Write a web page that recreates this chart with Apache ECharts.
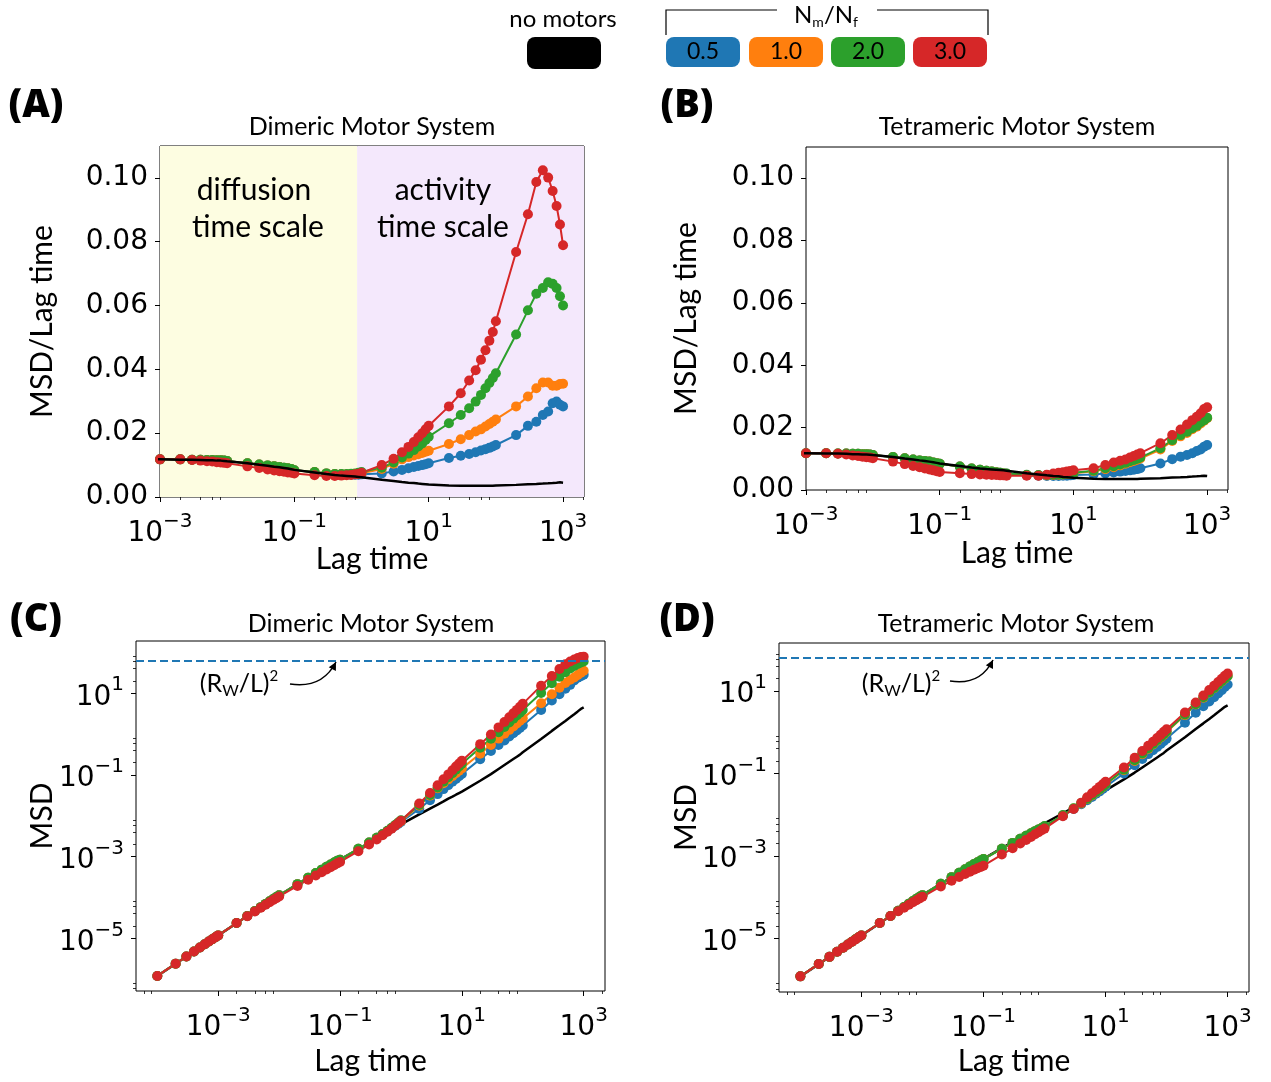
<!DOCTYPE html>
<html><head><meta charset="utf-8">
<script src="https://cdn.jsdelivr.net/npm/echarts@6/dist/echarts.min.js"></script>
<style>html,body{margin:0;padding:0;background:#fff}#chart{width:1271px;height:1082px}</style>
</head><body><div id="chart"></div>
<script>
// ---------------- DATA ----------------
const lagTime = [
  1e-4,2e-4,3e-4,4e-4,5e-4,6e-4,7e-4,8e-4,9e-4,
  1e-3,2e-3,3e-3,4e-3,5e-3,6e-3,7e-3,8e-3,9e-3,
  0.01,0.02,0.03,0.04,0.05,0.06,0.07,0.08,0.09,
  0.1,0.2,0.3,0.4,0.5,0.6,0.7,0.8,0.9,
  1,2,3,4,5,6,7,8,9,
  10,20,30,40,50,60,70,80,90,
  100,200,300,400,500,600,700,800,900,
  1000];

// MSD / Lag time, no motors
const noMotors = [
  0.0119,0.0119,0.0119,0.0119,0.0119,0.0119,0.0119,0.0118,0.0118,
  0.0118,0.0117,0.0117,0.0116,0.0115,0.0115,0.0114,0.0114,0.0113,
  0.0112,0.0106,0.0101,0.0098,0.0095,0.0093,0.0091,0.0089,0.0087,
  0.0085,0.0077,0.0072,0.0069,0.0067,0.0066,0.0065,0.0064,0.0063,
  0.0062,0.0054,0.0050,0.0047,0.0045,0.0044,0.0042,0.0041,0.0040,
  0.0039,0.0036,0.0035,0.0035,0.0035,0.0035,0.0035,0.0035,0.0035,
  0.0036,0.0038,0.0040,0.0041,0.0042,0.0043,0.0044,0.0045,0.0046,
  0.0045];

// Dimeric motor system, MSD / Lag time, Nm/Nf = 0.5, 1.0, 2.0, 3.0
const dimer05 = [
  0.0120,0.0120,0.0119,0.0119,0.0119,0.0119,0.0119,0.0119,0.0118,
  0.0118,0.0118,0.0117,0.0117,0.0116,0.0116,0.0115,0.0115,0.0114,
  0.0113,0.0106,0.0102,0.0099,0.0096,0.0094,0.0092,0.0090,0.0088,
  0.0084,0.0078,0.0074,0.0072,0.0071,0.0070,0.0070,0.0070,0.0070,
  0.0071,0.0074,0.0080,0.0085,0.0090,0.0094,0.0097,0.0100,0.0103,
  0.0106,0.0122,0.0129,0.0135,0.0140,0.0146,0.0150,0.0154,0.0158,
  0.0163,0.0194,0.0223,0.0236,0.0257,0.0268,0.0294,0.0299,0.0289,
  0.0284];
const dimer10 = [
  0.0120,0.0120,0.0119,0.0119,0.0119,0.0119,0.0119,0.0119,0.0118,
  0.0118,0.0118,0.0117,0.0117,0.0116,0.0116,0.0115,0.0115,0.0114,
  0.0113,0.0106,0.0102,0.0099,0.0096,0.0094,0.0092,0.0090,0.0088,
  0.0084,0.0078,0.0074,0.0072,0.0071,0.0071,0.0071,0.0072,0.0073,
  0.0074,0.0088,0.0104,0.0118,0.0125,0.0130,0.0134,0.0138,0.0142,
  0.0145,0.0166,0.0181,0.0194,0.0205,0.0212,0.0221,0.0229,0.0236,
  0.0243,0.0284,0.0315,0.0341,0.0359,0.0359,0.0349,0.0349,0.0354,
  0.0355];
const dimer20 = [
  0.0120,0.0120,0.0119,0.0119,0.0119,0.0119,0.0119,0.0119,0.0118,
  0.0118,0.0118,0.0117,0.0117,0.0116,0.0116,0.0115,0.0115,0.0114,
  0.0113,0.0106,0.0102,0.0099,0.0096,0.0094,0.0092,0.0090,0.0088,
  0.0084,0.0078,0.0074,0.0072,0.0072,0.0072,0.0073,0.0074,0.0076,
  0.0078,0.0092,0.0108,0.0124,0.0136,0.0147,0.0158,0.0168,0.0179,
  0.0189,0.0231,0.0257,0.0278,0.0299,0.0320,0.0341,0.0357,0.0373,
  0.0388,0.0509,0.0585,0.0637,0.0655,0.0673,0.0668,0.0655,0.0629,
  0.0600];
const dimer30 = [
  0.0120,0.0120,0.0119,0.0119,0.0119,0.0119,0.0119,0.0118,0.0118,
  0.0118,0.0118,0.0116,0.0114,0.0112,0.0111,0.0109,0.0108,0.0107,
  0.0106,0.0096,0.0091,0.0086,0.0083,0.0081,0.0079,0.0077,0.0076,
  0.0074,0.0068,0.0066,0.0066,0.0067,0.0068,0.0069,0.0071,0.0073,
  0.0076,0.0100,0.0120,0.0140,0.0157,0.0172,0.0187,0.0200,0.0212,
  0.0223,0.0284,0.0325,0.0365,0.0397,0.0430,0.0460,0.0490,0.0517,
  0.0551,0.0768,0.0886,0.0987,0.1024,0.1001,0.0959,0.0912,0.0854,
  0.0789];

// Tetrameric motor system, MSD / Lag time
const tetra05 = [
  0.0120,0.0120,0.0119,0.0119,0.0119,0.0119,0.0119,0.0119,0.0118,
  0.0118,0.0118,0.0117,0.0117,0.0116,0.0116,0.0115,0.0115,0.0114,
  0.0112,0.0106,0.0102,0.0098,0.0095,0.0093,0.0091,0.0088,0.0086,
  0.0084,0.0075,0.0069,0.0065,0.0062,0.0059,0.0057,0.0055,0.0053,
  0.0052,0.0047,0.0046,0.0045,0.0045,0.0045,0.0046,0.0046,0.0047,
  0.0048,0.0050,0.0053,0.0056,0.0059,0.0061,0.0063,0.0065,0.0067,
  0.0070,0.0085,0.0099,0.0107,0.0112,0.0118,0.0125,0.0130,0.0139,
  0.0144];
const tetra10 = [
  0.0120,0.0120,0.0119,0.0119,0.0119,0.0119,0.0119,0.0119,0.0118,
  0.0118,0.0118,0.0117,0.0117,0.0116,0.0116,0.0115,0.0115,0.0114,
  0.0112,0.0106,0.0102,0.0098,0.0095,0.0093,0.0091,0.0088,0.0086,
  0.0084,0.0075,0.0069,0.0065,0.0062,0.0059,0.0057,0.0055,0.0053,
  0.0052,0.0048,0.0047,0.0047,0.0048,0.0049,0.0050,0.0051,0.0052,
  0.0054,0.0060,0.0067,0.0073,0.0079,0.0084,0.0089,0.0093,0.0097,
  0.0101,0.0130,0.0157,0.0172,0.0183,0.0195,0.0203,0.0213,0.0222,
  0.0230];
const tetra20 = [
  0.0120,0.0120,0.0119,0.0119,0.0119,0.0119,0.0119,0.0119,0.0118,
  0.0118,0.0118,0.0117,0.0117,0.0116,0.0116,0.0115,0.0115,0.0114,
  0.0112,0.0106,0.0102,0.0098,0.0095,0.0093,0.0091,0.0088,0.0086,
  0.0084,0.0075,0.0069,0.0065,0.0062,0.0059,0.0057,0.0055,0.0053,
  0.0053,0.0049,0.0048,0.0048,0.0049,0.0050,0.0051,0.0052,0.0053,
  0.0055,0.0062,0.0070,0.0076,0.0082,0.0087,0.0092,0.0096,0.0100,
  0.0104,0.0134,0.0160,0.0176,0.0187,0.0198,0.0206,0.0217,0.0224,
  0.0232];
const tetra30 = [
  0.0120,0.0120,0.0119,0.0119,0.0119,0.0119,0.0119,0.0118,0.0118,
  0.0118,0.0118,0.0116,0.0114,0.0111,0.0109,0.0107,0.0105,0.0104,
  0.0102,0.0091,0.0083,0.0077,0.0073,0.0069,0.0066,0.0063,0.0060,
  0.0058,0.0054,0.0051,0.0050,0.0049,0.0048,0.0048,0.0047,0.0047,
  0.0046,0.0046,0.0046,0.0049,0.0053,0.0055,0.0057,0.0059,0.0061,
  0.0063,0.0070,0.0080,0.0088,0.0094,0.0098,0.0104,0.0109,0.0114,
  0.0118,0.0150,0.0176,0.0194,0.0210,0.0224,0.0235,0.0246,0.0260,
  0.0265];

const ratioLabels = ['0.5', '1.0', '2.0', '3.0'];
const seriesColors = ['#1f77b4', '#ff7f0e', '#2ca02c', '#d62728'];
const rwOverLSquared = 64;          // (R_W/L)^2 reference level
const timeScaleBoundary = 0.86;     // diffusion / activity time-scale boundary (lag time)
const majorLogTicks = [1e-5, 1e-3, 1e-1, 10, 1000];
const minorLogTicks = [6e-7, 8e-7, 2e-5, 4e-5, 6e-5, 8e-5, 2e-3, 4e-3, 6e-3, 8e-3, 0.2, 0.4, 0.6, 0.8, 20, 40, 60, 80, 2000];
const linearTicks = [0, 0.02, 0.04, 0.06, 0.08, 0.10];

// ---------------- CHART ----------------
const TICKFONT = 'DejaVu Sans';
const TXT = 'Lato';
const chart = echarts.init(document.getElementById('chart'), null, {renderer: 'canvas'});

const grids = [
  {left: 160, top: 146, width: 424, height: 351},
  {left: 806, top: 147, width: 422, height: 343},
  {left: 136, top: 641, width: 469, height: 350},
  {left: 779, top: 643, width: 470, height: 349}
].map(g => Object.assign(g, {show: true, borderColor: '#000', borderWidth: 1, backgroundColor: 'transparent'}));

const xRange = [
  [1e-3, 2050], [1e-3, 2050],
  [Math.pow(10, -4.35), Math.pow(10, 3.35)], [Math.pow(10, -4.35), Math.pow(10, 3.35)]
];
const yRange = [
  [0, 0.110], [0, 0.110],
  [Math.pow(10, -6.29), Math.pow(10, 2.28)], [Math.pow(10, -6.30), Math.pow(10, 2.164)]
];

// superscript tick labels: base centred in a 36px line, exponent pinned to the top
const supRich = {
  b: {fontFamily: TICKFONT, fontSize: 28, lineHeight: 36, verticalAlign: 'bottom', color: '#000'},
  s: {fontFamily: TICKFONT, fontSize: 20, lineHeight: 12, verticalAlign: 'top', color: '#000'}
};
function powLabel(v) {
  const e = Math.round(Math.log10(v));
  const s = e < 0 ? '\u2212' + (-e) : String(e);
  return '{b|10}{s|' + s + '}';
}
function inRange(vals, r) { return vals.filter(v => v >= r[0] && v <= r[1]); }

const nameStyle = {fontFamily: TXT, fontSize: 30, color: '#000'};
const xNameGap = [47, 48, 55, 54];
const yNameGap = [103, 105, 79, 78];
const yNames = ['MSD/Lag time', 'MSD/Lag time', 'MSD', 'MSD'];

const xAxis = [], yAxis = [];
for (let g = 0; g < 4; g++) {
  const xr = xRange[g], yr = yRange[g];
  xAxis.push({
    type: 'log', logBase: 10, gridIndex: g, position: 'bottom', min: xr[0], max: xr[1],
    name: 'Lag time', nameLocation: 'middle', nameGap: xNameGap[g], nameTextStyle: nameStyle, nameMoveOverlap: false,
    axisLine: {show: false}, splitLine: {show: false},
    axisTick: {show: true, length: 5, customValues: inRange(majorLogTicks, xr), lineStyle: {color: '#000', width: 1}},
    axisLabel: {show: true, customValues: inRange(majorLogTicks, xr), formatter: powLabel, rich: supRich, margin: 15}
  });
  xAxis.push({
    type: 'log', logBase: 10, gridIndex: g, position: 'bottom', min: xr[0], max: xr[1],
    axisLine: {show: false}, splitLine: {show: false}, axisLabel: {show: false},
    axisTick: {show: true, length: 3, customValues: inRange(minorLogTicks, [xr[0], xr[1] * 0.99]), lineStyle: {color: '#000', width: 0.8}}
  });
  if (g < 2) {
    yAxis.push({
      type: 'value', gridIndex: g, position: 'left', min: yr[0], max: yr[1],
      name: yNames[g], nameLocation: 'middle', nameGap: yNameGap[g], nameRotate: 90, nameTextStyle: nameStyle, nameMoveOverlap: false,
      axisLine: {show: false}, splitLine: {show: false},
      axisTick: {show: true, length: 5, customValues: linearTicks, lineStyle: {color: '#000'}},
      axisLabel: {show: true, customValues: linearTicks, formatter: v => v.toFixed(2),
        fontFamily: TICKFONT, fontSize: 28, color: '#000', margin: 12}
    });
    yAxis.push({type: 'value', gridIndex: g, position: 'left', min: yr[0], max: yr[1], show: false});
  } else {
    yAxis.push({
      type: 'log', logBase: 10, gridIndex: g, position: 'left', min: yr[0], max: yr[1],
      name: yNames[g], nameLocation: 'middle', nameGap: yNameGap[g], nameRotate: 90, nameTextStyle: nameStyle, nameMoveOverlap: false,
      axisLine: {show: false}, splitLine: {show: false},
      axisTick: {show: true, length: 5, customValues: inRange(majorLogTicks, yr), lineStyle: {color: '#000'}},
      axisLabel: {show: true, customValues: inRange(majorLogTicks, yr), formatter: powLabel, rich: supRich, margin: 12}
    });
    yAxis.push({
      type: 'log', logBase: 10, gridIndex: g, position: 'left', min: yr[0], max: yr[1],
      axisLine: {show: false}, splitLine: {show: false}, axisLabel: {show: false},
      axisTick: {show: true, length: 3, customValues: inRange(minorLogTicks, yr), lineStyle: {color: '#000', width: 0.8}}
    });
  }
}

const panelData = [
  [dimer05, dimer10, dimer20, dimer30],
  [tetra05, tetra10, tetra20, tetra30],
  [dimer05, dimer10, dimer20, dimer30],
  [tetra05, tetra10, tetra20, tetra30]
];
const series = [];
// background shading for panel A
series.push({
  type: 'line', xAxisIndex: 0, yAxisIndex: 0, data: [], z: 0, silent: true,
  markArea: {silent: true, data: [
    [{xAxis: xRange[0][0], itemStyle: {color: '#fdfde1'}}, {xAxis: timeScaleBoundary}],
    [{xAxis: timeScaleBoundary, itemStyle: {color: '#f4e8fc'}}, {xAxis: xRange[0][1]}]
  ]}
});
for (let g = 0; g < 4; g++) {
  const msd = g >= 2; // panels C, D show MSD = (MSD/Lag time) x Lag time
  const toPts = arr => lagTime.map((t, i) => [t, msd ? arr[i] * t : arr[i]]);
  panelData[g].forEach((arr, k) => {
    series.push({
      name: ratioLabels[k], type: 'line', xAxisIndex: 2 * g, yAxisIndex: 2 * g, data: toPts(arr),
      symbol: 'circle', symbolSize: 10, showSymbol: true, clip: true, z: 3,
      lineStyle: {color: seriesColors[k], width: 2}, itemStyle: {color: seriesColors[k]}
    });
  });
  series.push({
    name: 'no motors', type: 'line', xAxisIndex: 2 * g, yAxisIndex: 2 * g, data: toPts(noMotors),
    symbol: 'none', showSymbol: false, clip: true, z: msd ? 2 : 4,
    lineStyle: {color: '#000', width: 2.5}
  });
  if (msd) {
    series.push({
      type: 'line', xAxisIndex: 2 * g, yAxisIndex: 2 * g, data: [], z: 2, silent: true,
      markLine: {silent: true, symbol: ['none', 'none'], label: {show: false},
        lineStyle: {color: '#1f77b4', type: [8, 4], width: 2},
        data: [{yAxis: rwOverLSquared}]}
    });
  }
}

function txt(text, x, y, font, extra) {
  return Object.assign({type: 'text', x: x, y: y, z: 100,
    style: {text: text, font: font, fill: '#000', align: 'center', verticalAlign: 'middle'}}, extra || {});
}
const graphic = [];
// panel labels and titles
[['(A)', 36, 106], ['(B)', 687, 106], ['(C)', 36, 620], ['(D)', 687, 620]].forEach(p =>
  graphic.push(txt(p[0], p[1], p[2], '800 38px "Open Sans"')));
[['Dimeric Motor System', 372, 127], ['Tetrameric Motor System', 1017, 127],
 ['Dimeric Motor System', 371, 624], ['Tetrameric Motor System', 1016, 624]].forEach(p =>
  graphic.push(txt(p[0], p[1], p[2], '25px ' + TXT)));
// time-scale annotations
[['diffusion', 254, 190], ['time scale', 258, 227], ['activity', 443, 190], ['time scale', 443, 227]].forEach(p =>
  graphic.push(txt(p[0], p[1], p[2], '30px ' + TXT)));
// (R_W/L)^2 annotations and arrows
const rwRich = {
  n: {fontFamily: TXT, fontSize: 25, color: '#000', lineHeight: 30, verticalAlign: 'middle'},
  sub: {fontFamily: TXT, fontSize: 16, color: '#000', lineHeight: 16, verticalAlign: 'bottom'},
  sup: {fontFamily: TXT, fontSize: 15, color: '#000', lineHeight: 15, verticalAlign: 'top'}
};
[[239, 684, 290, 684, 322, 689, 336, 662], [901, 684, 950, 681, 980, 686, 993, 660]].forEach(a => {
  graphic.push({type: 'text', x: a[0], y: a[1], z: 100,
    style: {text: '{n|(R}{sub|W}{n|/L)}{sup|2}', rich: rwRich, align: 'center', verticalAlign: 'middle'}});
  graphic.push({type: 'bezierCurve', z: 100,
    shape: {x1: a[2], y1: a[3], cpx1: a[4], cpy1: a[5], x2: a[6], y2: a[7]},
    style: {stroke: '#000', lineWidth: 1.5, fill: null}});
  const dx = a[6] - a[4], dy = a[7] - a[5], L = Math.hypot(dx, dy), ux = dx / L, uy = dy / L;
  graphic.push({type: 'polygon', z: 100,
    shape: {points: [[a[6], a[7]], [a[6] - 8 * ux - 4 * uy, a[7] - 8 * uy + 4 * ux], [a[6] - 8 * ux + 4 * uy, a[7] - 8 * uy - 4 * ux]]},
    style: {fill: '#000'}});
});
// legend
graphic.push(txt('no motors', 563, 19, '24px ' + TXT));
graphic.push({type: 'rect', z: 100, shape: {x: 527, y: 37, width: 74, height: 32, r: 8}, style: {fill: '#000'}});
graphic.push({type: 'polyline', z: 100, shape: {points: [[666, 35], [666, 10], [777, 10]]}, style: {stroke: '#000', lineWidth: 1.2, fill: null}});
graphic.push({type: 'polyline', z: 100, shape: {points: [[877, 10], [988, 10], [988, 35]]}, style: {stroke: '#000', lineWidth: 1.2, fill: null}});
graphic.push({type: 'text', x: 826, y: 16, z: 100, style: {
  text: '{n|N}{s|m}{n|/N}{s|f}', align: 'center', verticalAlign: 'middle',
  rich: {n: {fontFamily: TXT, fontSize: 24, color: '#000', lineHeight: 26, verticalAlign: 'top'},
         s: {fontFamily: TXT, fontSize: 14, color: '#000', lineHeight: 14, verticalAlign: 'bottom', padding: [16, 0, 0, 0]}}}});
const boxX = [666, 749, 831, 913];
ratioLabels.forEach((lab, k) => {
  graphic.push({type: 'rect', z: 100, shape: {x: boxX[k], y: 37, width: 74, height: 30, r: 8}, style: {fill: seriesColors[k]}});
  graphic.push(txt(lab, boxX[k] + 37, 52, '23px ' + TXT));
});

chart.setOption({
  animation: false,
  backgroundColor: '#fff',
  grid: grids,
  xAxis: xAxis,
  yAxis: yAxis,
  series: series,
  graphic: graphic
});
</script></body></html>
